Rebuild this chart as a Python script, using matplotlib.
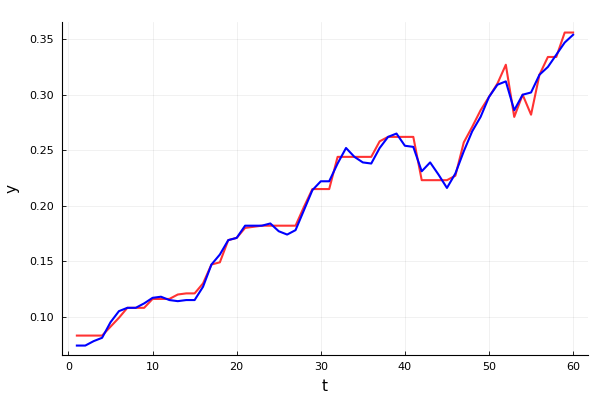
import numpy as np
import matplotlib
matplotlib.use("Agg")
import matplotlib.pyplot as plt

# time steps and the two series
t = list(range(1, 61))

red_y = [0.083, 0.083, 0.083, 0.083, 0.091, 0.099, 0.108, 0.108, 0.108, 0.116,
         0.116, 0.116, 0.120, 0.121, 0.121, 0.130, 0.147, 0.149, 0.169, 0.171,
         0.180, 0.181, 0.182, 0.182, 0.182, 0.182, 0.182, 0.199, 0.215, 0.215,
         0.215, 0.244, 0.244, 0.244, 0.244, 0.244, 0.258, 0.262, 0.262, 0.262,
         0.262, 0.223, 0.223, 0.223, 0.223, 0.227, 0.257, 0.271, 0.286, 0.298,
         0.310, 0.327, 0.280, 0.300, 0.282, 0.318, 0.334, 0.334, 0.356, 0.356]

blue_y = [0.074, 0.074, 0.078, 0.081, 0.095, 0.105, 0.108, 0.108, 0.112, 0.117,
          0.118, 0.115, 0.114, 0.115, 0.115, 0.127, 0.147, 0.156, 0.169, 0.171,
          0.182, 0.182, 0.182, 0.184, 0.177, 0.174, 0.178, 0.196, 0.214, 0.222,
          0.222, 0.238, 0.252, 0.244, 0.239, 0.238, 0.252, 0.262, 0.265, 0.254,
          0.253, 0.231, 0.239, 0.228, 0.216, 0.229, 0.249, 0.267, 0.280, 0.298,
          0.309, 0.312, 0.286, 0.300, 0.302, 0.318, 0.325, 0.336, 0.347, 0.354]

x_ticks = [0, 10, 20, 30, 40, 50, 60]
y_ticks = [0.10, 0.15, 0.20, 0.25, 0.30, 0.35]


def make_plot():
    fig = plt.figure(figsize=(6, 4), dpi=100)
    ax = fig.add_axes([0.1033, 0.1125, 0.8767, 0.8325])

    ax.plot(t, red_y, color="red", alpha=0.8, lw=1.5)
    ax.plot(t, blue_y, color="blue", lw=1.5)

    ax.set_xlim(-0.77, 61.77)
    ax.set_ylim(0.0655, 0.3655)
    ax.set_xticks(x_ticks)
    ax.set_yticks(y_ticks)
    ax.set_yticklabels([f"{v:.2f}" for v in y_ticks])

    ax.grid(True, color="black", alpha=0.08, lw=0.5)
    for side in ("top", "right"):
        ax.spines[side].set_visible(False)
    for side in ("left", "bottom"):
        ax.spines[side].set_linewidth(0.8)
    ax.tick_params(direction="in", length=3, width=0.6, labelsize=8)
    ax.tick_params(axis="y", pad=6)
    ax.tick_params(axis="x", pad=5)

    ax.set_xlabel("t", fontsize=11, labelpad=5)
    ax.set_ylabel("y", fontsize=11, labelpad=7)

    fig.savefig("out.png", dpi=100)


if __name__ == "__main__":
    make_plot()
